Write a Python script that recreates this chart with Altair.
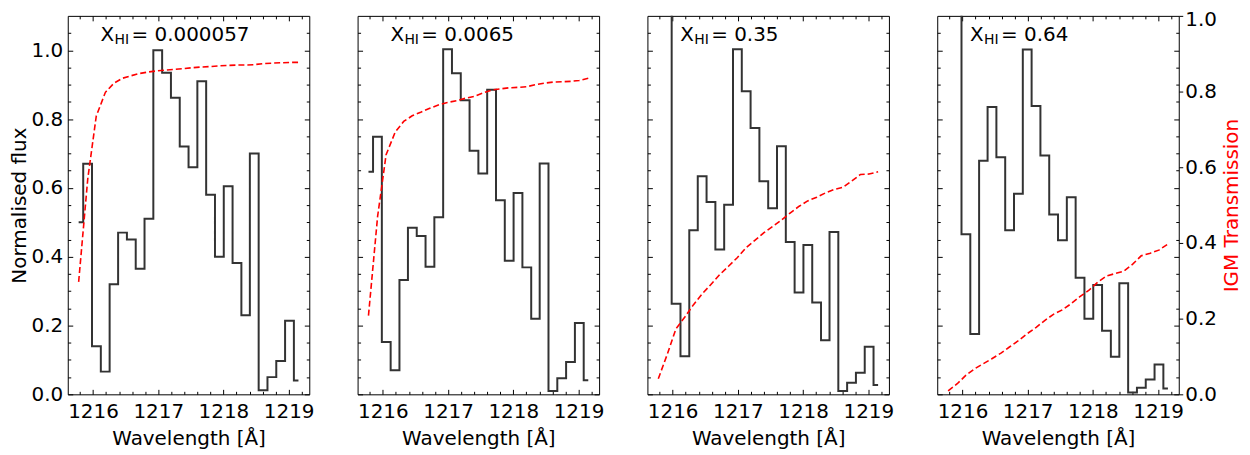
import altair as alt
import pandas as pd

# ---------------- data ----------------
wavelength = [1215.78, 1215.92, 1216.05, 1216.19, 1216.32, 1216.45, 1216.59,
              1216.72, 1216.86, 1216.99, 1217.13, 1217.26, 1217.40, 1217.53,
              1217.67, 1217.80, 1217.94, 1218.07, 1218.21, 1218.34, 1218.47,
              1218.61, 1218.74, 1218.88, 1219.01, 1219.15]

flux_1 = [0.50, 0.67, 0.14, 0.066, 0.32, 0.47, 0.45, 0.365, 0.51, 1.00, 0.935,
          0.862, 0.72, 0.66, 0.91, 0.58, 0.40, 0.605, 0.382, 0.23, 0.70, 0.012,
          0.05, 0.097, 0.214, 0.04]
flux_2 = [0.647, 0.749, 0.152, 0.070, 0.332, 0.484, 0.460, 0.371, 0.515, 1.003,
          0.933, 0.855, 0.708, 0.642, 0.885, 0.564, 0.388, 0.585, 0.369, 0.220,
          0.671, 0.010, 0.047, 0.094, 0.207, 0.041]
flux_3 = [1.50, 1.40, 0.263, 0.111, 0.477, 0.634, 0.559, 0.421, 0.551, 1.003,
          0.881, 0.774, 0.619, 0.541, 0.721, 0.443, 0.296, 0.434, 0.267, 0.157,
          0.472, 0.010, 0.034, 0.063, 0.138, 0.027]
flux_4 = [1.50, 1.40, 0.465, 0.175, 0.679, 0.835, 0.689, 0.477, 0.583, 1.002,
          0.838, 0.694, 0.523, 0.448, 0.573, 0.339, 0.220, 0.318, 0.185, 0.109,
          0.323, 0.005, 0.019, 0.043, 0.087, 0.017]

trans_1 = [0.297, 0.57, 0.735, 0.798, 0.822, 0.835, 0.842, 0.848, 0.852, 0.855,
           0.857, 0.859, 0.861, 0.863, 0.865, 0.866, 0.868, 0.869, 0.870, 0.870,
           0.871, 0.874, 0.875, 0.876, 0.877, 0.877]
trans_2 = [0.208, 0.47, 0.633, 0.693, 0.721, 0.736, 0.746, 0.756, 0.765, 0.771,
           0.776, 0.782, 0.787, 0.796, 0.804, 0.807, 0.810, 0.811, 0.813, 0.818,
           0.822, 0.825, 0.826, 0.827, 0.829, 0.835]
trans_3 = [0.041, 0.107, 0.173, 0.205, 0.237, 0.265, 0.291, 0.316, 0.339, 0.361,
           0.388, 0.407, 0.427, 0.443, 0.461, 0.479, 0.497, 0.511, 0.521, 0.532,
           0.541, 0.547, 0.563, 0.581, 0.582, 0.588]
trans_4 = [0.009, 0.028, 0.050, 0.068, 0.081, 0.094, 0.109, 0.125, 0.142, 0.160,
           0.177, 0.195, 0.212, 0.223, 0.240, 0.258, 0.275, 0.296, 0.313, 0.319,
           0.325, 0.344, 0.366, 0.373, 0.381, 0.397]

xhi_values = ["0.000057", "0.0065", "0.35", "0.64"]

x_major = [1216, 1217, 1218, 1219]
x_minor = [1215.8, 1216.2, 1216.4, 1216.6, 1216.8, 1217.2, 1217.4, 1217.6,
           1217.8, 1218.2, 1218.4, 1218.6, 1218.8, 1219.2]
y_major = [0.0, 0.2, 0.4, 0.6, 0.8, 1.0]
y_minor = [0.05, 0.1, 0.15, 0.25, 0.3, 0.35, 0.45, 0.5, 0.55, 0.65, 0.7, 0.75,
           0.85, 0.9, 0.95, 1.05]
t_major_low = [0.0, 0.2, 0.4, 0.6, 0.8]
t_major_top = [1.0]

x_domain = [1215.613, 1219.316]
flux_domain = [0.0, 1.1]
trans_domain = [0.0, 1.0]

fluxes = [flux_1, flux_2, flux_3, flux_4]
transes = [trans_1, trans_2, trans_3, trans_4]

FONT = "DejaVu Sans"
FS = 20
MAJ = 5
MIN = 3


def tick_axis(orient, values, size, **kw):
    return alt.Axis(orient=orient, values=values, tickSize=size, offset=-size,
                    domain=False, grid=False, tickColor="black", tickWidth=1,
                    **kw)


def panel(i):
    df = pd.DataFrame({"wl": wavelength, "flux": fluxes[i], "trans": transes[i]})
    base = alt.Chart(df)
    xs = alt.Scale(domain=x_domain, nice=False, zero=False)
    ys = alt.Scale(domain=flux_domain, nice=False, zero=False)
    ts = alt.Scale(domain=trans_domain, nice=False, zero=False)

    if i == 0:
        left_major = tick_axis("left", y_major, MAJ, labels=True, format=".1f",
                               labelPadding=5, title="Normalised flux",
                               titlePadding=2)
    else:
        left_major = tick_axis("left", y_major, MAJ, labels=False, title=None)

    step = base.mark_line(interpolate="step", color="#333333", strokeWidth=2,
                          clip=True).encode(
        x=alt.X("wl:Q", scale=xs,
                axis=tick_axis("bottom", x_major, MAJ, labels=True, format="d",
                               labelPadding=7, title="Wavelength [Å]",
                               titlePadding=7)),
        y=alt.Y("flux:Q", scale=ys, axis=left_major),
    )
    g1 = base.mark_point(opacity=0, clip=True).encode(
        x=alt.X("wl:Q", scale=xs, axis=tick_axis("top", x_major, MAJ, labels=False, title=None)),
        y=alt.Y("flux:Q", scale=ys, axis=tick_axis("left", y_minor, MIN, labels=False, title=None)),
    )
    g2 = base.mark_point(opacity=0, clip=True).encode(
        x=alt.X("wl:Q", scale=xs, axis=tick_axis("bottom", x_minor, MIN, labels=False, title=None)),
        y=alt.Y("flux:Q", scale=ys, axis=tick_axis("right", y_major, MAJ, labels=False, title=None)),
    )
    g3 = base.mark_point(opacity=0, clip=True).encode(
        x=alt.X("wl:Q", scale=xs, axis=tick_axis("top", x_minor, MIN, labels=False, title=None)),
        y=alt.Y("flux:Q", scale=ys, axis=tick_axis("right", y_minor, MIN, labels=False, title=None)),
    )
    layers = [step, g1, g2, g3]

    if i == 3:
        t_axis = alt.Axis(orient="right", values=t_major_low, tickSize=4,
                          tickColor="black", domain=False, grid=False,
                          labelPadding=2, format=".1f",
                          title="IGM Transmission", titleColor="red",
                          titleAngle=270, titleBaseline="top", titlePadding=5)
        red_y = alt.Y("trans:Q", scale=ts, axis=t_axis)
        t_top = alt.Axis(orient="right", values=t_major_top, tickSize=4,
                         tickColor="black", domain=False, grid=False,
                         labelPadding=2, format=".1f", labelFlush=True,
                         labelFlushOffset=6, title=None)
        layers.append(base.mark_point(opacity=0, clip=True).encode(
            x=alt.X("wl:Q", scale=xs, axis=None),
            y=alt.Y("trans:Q", scale=ts, axis=t_top)))
    else:
        red_y = alt.Y("trans:Q", scale=ts, axis=None)
    red = base.mark_line(color="red", strokeDash=[6, 3], strokeWidth=1.6,
                         clip=True).encode(
        x=alt.X("wl:Q", scale=xs, axis=None),
        y=red_y,
    )
    layers.append(red)

    one = alt.Chart(pd.DataFrame({"k": [0]}))
    tx = one.mark_text(text="X", font=FONT, fontSize=FS, align="left",
                       baseline="alphabetic", color="black").encode(
        x=alt.value(33), y=alt.value(25))
    tsub = one.mark_text(text="HI", font=FONT, fontSize=14, align="left",
                         baseline="alphabetic", color="black").encode(
        x=alt.value(47), y=alt.value(28.5))
    tval = one.mark_text(text="= " + xhi_values[i], font=FONT, fontSize=FS,
                         align="left", baseline="alphabetic",
                         color="black").encode(
        x=alt.value(64), y=alt.value(25))
    layers += [tx, tsub, tval]

    return (
        alt.layer(*layers)
        .resolve_scale(y="independent")
        .resolve_axis(x="independent", y="independent")
        .properties(width=242.5, height=380)
    )


chart = (
    alt.hconcat(*[panel(i) for i in range(4)], spacing=48, bounds="flush")
    .properties(padding={"left": 0, "top": 0, "right": 0, "bottom": 0},
                background="white")
    .configure_view(stroke="black", strokeWidth=1)
    .configure_axis(labelFont=FONT, titleFont=FONT, labelFontSize=FS,
                    titleFontSize=FS, labelColor="black",
                    titleFontWeight="normal")
    .configure_axisLeft(titleColor="black")
    .configure_axisBottom(titleColor="black")
)

chart.save("out.html", embed_options={"renderer": "svg", "actions": False})
